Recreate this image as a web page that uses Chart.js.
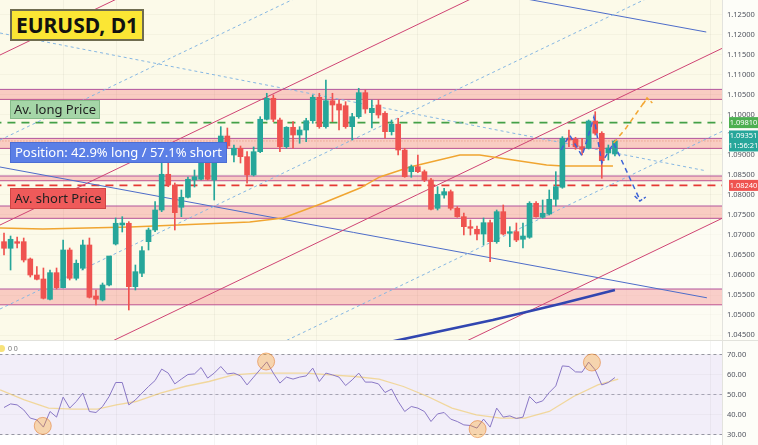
<!DOCTYPE html>
<html>
<head>
<meta charset="utf-8">
<script src="https://cdn.jsdelivr.net/npm/chart.js@4.4.1/dist/chart.umd.min.js"></script>
<style>
  body { margin: 0; background: #fdfdf8; font-family: "Noto Sans", sans-serif; }
  #wrap { position: relative; width: 758px; height: 445px; overflow: hidden; }
  canvas { position: absolute; left: 0; }
  .note { position: absolute; box-sizing: border-box; white-space: nowrap; display: flex;
          align-items: center; justify-content: center; font-size: 13px; line-height: 1; z-index: 2; }
  .title { left: 10px; top: 9px; width: 134px; height: 32px; background: #fbe634;
           border: 2px solid #6f6c50; font-weight: bold; font-size: 21px; color: #111; }
  .long { left: 10px; top: 100px; width: 90px; height: 19px; background: #a5d6a7; border: 1px solid #86bb89; color: #222; }
  .pos { left: 10px; top: 142px; width: 217px; height: 21px; background: #5b7fe6; border: 1px solid #4b6dd4; color: #fff; }
  .short { left: 10px; top: 188px; width: 96px; height: 21px; background: #ef5a5a; border: 1px solid #d04545; color: #222; }
  .sep { position: absolute; left: 0; top: 340px; width: 758px; height: 1px; background: #e2e2dc; z-index: 2; }
  .rsihead { position: absolute; left: -2px; top: 344px; font-size: 7px; color: #777; display: flex; align-items: center; gap: 3px; z-index: 2; }
  .rsihead i { display: inline-block; width: 7px; height: 7px; border-radius: 50%; background: #f7e27a; }
</style>
</head>
<body>
<div id="wrap">
  <canvas id="main" width="758" height="340" style="top:0"></canvas>
  <canvas id="rsi" width="758" height="105" style="top:340px"></canvas>
  <div class="sep"></div>
  <div class="note title">EURUSD, D1</div>
  <div class="note long">Av. long Price</div>
  <div class="note pos">Position: 42.9% long / 57.1% short</div>
  <div class="note short">Av. short Price</div>
  <div class="rsihead"><i></i><span>0 0</span></div>
</div>
<script>
// daily candles, index 0..93
const candleOpen = [1.06833,1.06668,1.06833,1.06833,1.06400,1.06000,1.05900,1.05393,1.06058,1.05683,
  1.06625,1.05918,1.06168,1.06750,1.05475,1.05375,1.05750,1.06775,1.07250,1.07293,
  1.05708,1.06043,1.06833,1.07125,1.07625,1.08518,1.08250,1.07693,1.07943,1.08375,
  1.08393,1.08958,1.08375,1.08943,1.09475,1.09000,1.09168,1.08958,1.08500,1.09083,
  1.09893,1.10418,1.09875,1.09208,1.09693,1.09500,1.09625,1.09858,1.10443,1.09708,
  1.10358,1.10275,1.10233,1.09708,1.09958,1.10558,1.10058,1.10250,1.10043,1.09583,
  1.09770,1.09125,1.08583,1.08708,1.08583,1.08375,1.07668,1.08000,1.08083,1.07668,
  1.07458,1.07208,1.07143,1.07025,1.07308,1.06833,1.07583,1.07043,1.07083,1.06893,
  1.06943,1.07793,1.07443,1.07525,1.07893,1.08193,1.09418,1.09393,1.09208,1.09168,
  1.09850,1.09543,1.09050,1.09025];
const candleHigh = [1.07050,1.06975,1.06950,1.06925,1.06425,1.06208,1.06175,1.06125,1.06175,1.06875,
  1.06675,1.06375,1.06875,1.06925,1.05625,1.05800,1.06425,1.07425,1.07458,1.07333,
  1.06250,1.06708,1.07175,1.07833,1.08833,1.08833,1.08300,1.08125,1.08450,1.08625,
  1.09208,1.09000,1.09000,1.09708,1.09675,1.09250,1.09225,1.09083,1.09200,1.09958,
  1.10543,1.10500,1.09925,1.09708,1.09833,1.09708,1.09918,1.10500,1.10543,1.10875,
  1.10543,1.10375,1.10333,1.10043,1.10668,1.10625,1.10375,1.10375,1.10083,1.09875,
  1.09918,1.09168,1.08750,1.09000,1.08625,1.08418,1.08208,1.08168,1.08125,1.07708,
  1.07550,1.07375,1.07225,1.07425,1.07375,1.07625,1.07750,1.07208,1.07300,1.07300,
  1.07833,1.07833,1.07875,1.08125,1.08583,1.09458,1.09625,1.09443,1.09418,1.09875,
  1.10083,1.09583,1.09250,1.09375];
const candleLow = [1.06500,1.06125,1.06675,1.06325,1.05950,1.05875,1.05400,1.05375,1.05650,1.05675,
  1.05875,1.05875,1.06125,1.05425,1.05250,1.05350,1.05725,1.06750,1.07075,1.05125,
  1.05625,1.05958,1.06625,1.07083,1.07583,1.08208,1.07125,1.07458,1.07925,1.08200,
  1.08375,1.08375,1.07875,1.08925,1.09175,1.08825,1.08800,1.08293,1.08475,1.09058,
  1.09875,1.09833,1.09083,1.09168,1.09168,1.09293,1.09333,1.09793,1.09668,1.09668,
  1.09833,1.09625,1.09668,1.09375,1.09918,1.10043,1.09675,1.09925,1.09418,1.09500,
  1.09000,1.08443,1.08443,1.08558,1.08333,1.07625,1.07625,1.07918,1.07625,1.07443,
  1.07000,1.07000,1.06875,1.06750,1.06333,1.06793,1.07000,1.06708,1.06833,1.06675,
  1.06918,1.07443,1.07425,1.07500,1.07725,1.08168,1.09208,1.09143,1.09000,1.09150,
  1.09500,1.08418,1.08875,1.08975];
const candleClose = [1.06668,1.06893,1.06793,1.06375,1.06000,1.05893,1.05418,1.06058,1.05683,1.06625,
  1.05918,1.06293,1.06750,1.05443,1.05393,1.05750,1.06475,1.07293,1.07300,1.05708,
  1.06083,1.06608,1.07125,1.07625,1.08518,1.08250,1.07558,1.07943,1.08393,1.08458,
  1.08958,1.08393,1.08958,1.09475,1.09225,1.09168,1.08958,1.08500,1.09083,1.09893,
  1.10418,1.09893,1.09208,1.09693,1.09500,1.09625,1.09858,1.10443,1.09708,1.10358,
  1.10250,1.10125,1.09708,1.09958,1.10558,1.10150,1.10168,1.10000,1.09583,1.09770,
  1.09125,1.08458,1.08708,1.08583,1.08375,1.07643,1.08018,1.08083,1.07668,1.07458,
  1.07208,1.07168,1.07025,1.07308,1.06833,1.07583,1.07025,1.07083,1.06875,1.06975,
  1.07793,1.07458,1.07543,1.07893,1.08208,1.09418,1.09375,1.09208,1.09143,1.09850,
  1.09543,1.08858,1.09175,1.09351];

// RSI(14) per candle and its moving average (read at a few spots)
const rsiValues = [43.5,45.3,44.8,42.3,38.2,37.3,33.7,41.5,38.7,48.7,
  43.2,46.5,50.7,41.5,41.0,44.0,49.0,56.0,56.0,44.8,
  47.3,50.7,54.0,57.0,62.7,60.7,55.3,57.7,60.0,60.3,
  63.5,58.2,60.7,64.0,60.3,60.7,59.3,54.8,58.7,62.5,
  66.3,60.7,55.7,58.7,57.7,58.7,59.3,63.2,56.5,60.7,
  59.8,58.7,54.5,57.3,60.7,56.2,56.2,55.3,51.0,52.7,
  46.5,41.5,44.0,43.2,41.5,36.5,40.3,41.0,37.7,36.5,
  34.8,34.5,33.2,37.7,33.7,43.2,38.7,39.3,38.0,38.7,
  49.0,45.7,46.8,51.0,54.3,64.3,64.0,61.3,61.2,66.2,
  62.3,54.8,56.0,58.5];
const rsiMaIdx = [-0.6,3.1,6.8,10.5,14.2,17.1,20.1,23.8,27.5,31.2,34.9,38.6,42.3,46,
  49.7,53.4,57.1,60.8,64.5,68.2,71.9,75.6,79.3,83,86.7,90.4,93.5];
const rsiMaVal = [52.3,47.3,43.2,42.7,42.7,44.8,46.5,50.7,54,56.5,59.8,60.7,60.7,60.7,
  59.8,59,57.7,54,49,43.2,39.8,38.2,38.2,41.5,49,54.8,57.7];
const rsiMarkIdx = [5.9, 39.9, 72.1, 89.5];
const rsiMarkVal = [34.3, 66.5, 32.7, 66.0];
const rsiTicks = [30, 40, 50, 60, 70];

// moving averages on price
const ma50Idx = [-0.61,5.9,19.2,37.4,42.5,48.6,54.2,57.2,61.8,69.4,72.4,77.5,82.6,85.1,92.7];
const ma50Val = [1.07175,1.07150,1.07200,1.07325,1.07425,1.07800,1.08175,1.08450,1.08700,
  1.09000,1.09000,1.08875,1.08750,1.08725,1.08725];
const ma200Idx = [58.7, 74.4, 84.6, 93.0];
const ma200Val = [1.04325, 1.04875, 1.05275, 1.05625];

// price zones [top, bottom] and levels
const zones = [[1.10640,1.10390],[1.09415,1.09165],[1.08475,1.08357],[1.07725,1.07417],[1.05650,1.05255]];
const avgLongPrice = 1.09810;
const avgShortPrice = 1.08240;
const lastPrice = 1.09351;
const barCountdown = '11:56:21';
const priceTicks = [1.045,1.050,1.055,1.060,1.065,1.070,1.075,1.080,1.085,1.090,
  1.095,1.100,1.105,1.110,1.115,1.120,1.125];

// trend lines as [idxA, priceA, idxB, priceB]
const redChannel = [[-0.61,1.11500,109.3,1.20165],[-0.61,1.07250,109.3,1.15915],
  [-0.61,1.03000,109.3,1.11665],[-0.61,0.98750,109.3,1.07415]];
const blueDashChannel = [[-0.61,1.09375,109.3,1.18040],[-0.61,1.05150,109.3,1.13815],
  [-0.61,1.00925,109.3,1.09590]];
const blueDashDown = [-0.61,1.12050,106.8,1.08607];
const blueTrends = [[-0.61,1.08700,107.0,1.05430],[75.0,1.13037,106.9,1.12075]];

// projected paths
const bearPathIdx = [84.8,86.1,88.0,89.8,91.0,92.8,96.8];
const bearPathVal = [1.09125,1.09500,1.08975,1.09950,1.08800,1.09300,1.07875];
const bearHeadIdx = [96.0,96.8,97.7];
const bearHeadVal = [1.07975,1.07850,1.07950];
const bullPathIdx = [92.8,94.7,97.9];
const bullPathVal = [1.09300,1.09675,1.10425];
const bullHeadIdx = [97.3,97.9,98.7];
const bullHeadVal = [1.10275,1.10425,1.10300];

const gridIdx = [9, 17.2, 32, 47.5, 63, 78.5, 94.8, 107.5];

const viewStart = -0.61, viewEnd = 109.3;
const priceMin = 1.04375, priceMax = 1.12875;
const UP = '#26a69a', DOWN = '#ef5350';

Chart.defaults.font.family = '"Noto Sans", sans-serif';

const pts = (xs, ys) => xs.map((x, k) => ({x, y: ys[k]}));
const seg = s => [{x: s[0], y: s[1]}, {x: s[2], y: s[3]}];
const flat = v => [{x: viewStart - 1, y: v}, {x: viewEnd + 1, y: v}];

const paneBackground = {
  id: 'paneBackground',
  beforeDraw(chart, args, opts) {
    const {ctx, chartArea: a} = chart;
    ctx.save();
    ctx.fillStyle = opts.color;
    ctx.fillRect(a.left, a.top, a.right - a.left, a.bottom - a.top);
    ctx.restore();
  }
};

const priceTags = {
  id: 'priceTags',
  afterDraw(chart, args, opts) {
    if (!opts.tags) return;
    const {ctx, chartArea, scales: {y}} = chart;
    ctx.save();
    ctx.font = '7.5px "Noto Sans"';
    ctx.textAlign = 'center';
    ctx.textBaseline = 'middle';
    opts.tags.forEach(t => {
      const lines = [t.value.toFixed(5)].concat(t.extra ? [t.extra] : []);
      const h = 11 + (lines.length - 1) * 10;
      const py = y.getPixelForValue(t.value);
      const x = chartArea.right + 7, w = 29, top = py - h / 2;
      ctx.fillStyle = t.color;
      ctx.fillRect(x, top, w, h);
      ctx.fillStyle = '#fff';
      lines.forEach((s, k) => ctx.fillText(s, x + w / 2, top + 5.5 + k * 10));
    });
    ctx.restore();
  }
};

const xAxis = {
  type: 'linear', min: viewStart, max: viewEnd, offset: false,
  grid: {color: 'rgba(60,60,40,0.05)', drawTicks: false, offset: false},
  border: {display: false},
  ticks: {display: false},
  afterBuildTicks: s => { s.ticks = gridIdx.map(v => ({value: v})); },
  afterFit: s => { s.height = 0; s.paddingLeft = s.paddingRight = s.paddingTop = s.paddingBottom = 0; }
};

function rightAxis(min, max, ticks, digits) {
  return {
    position: 'right', type: 'linear', min, max, beginAtZero: false,
    grid: {color: 'rgba(60,60,40,0.035)', drawTicks: false},
    border: {color: 'rgba(0,0,0,0.10)'},
    ticks: {padding: 5, color: '#50535e', font: {size: 7.5}, callback: v => Number(v).toFixed(digits)},
    afterBuildTicks: s => { s.ticks = ticks.map(v => ({value: v})); },
    afterFit: s => { s.width = 36; s.paddingTop = s.paddingBottom = s.paddingLeft = s.paddingRight = 0; }
  };
}

// ---- main price pane ----
const lineBase = {type: 'line', pointRadius: 0, borderWidth: 1, fill: false, tension: 0};
const mainSets = [];

// lighter area under the lowest channel line
const lowRed = redChannel[redChannel.length - 1];
mainSets.push({...lineBase, data: seg(lowRed), borderColor: 'rgba(0,0,0,0)', fill: 'start',
  backgroundColor: 'rgba(255,255,255,0.45)', order: 99});

zones.forEach(z => {
  mainSets.push({...lineBase, data: flat(z[0]), borderColor: '#b2549c', fill: '+1',
    backgroundColor: 'rgba(242,80,90,0.27)', order: 90});
  mainSets.push({...lineBase, data: flat(z[1]), borderColor: '#b2549c', order: 90});
});

mainSets.push({...lineBase, data: flat(lastPrice), borderColor: 'rgba(226,140,110,0.9)', borderDash: [1, 2], order: 80});
mainSets.push({...lineBase, data: flat(avgLongPrice), borderColor: '#43a047', borderWidth: 1.6, borderDash: [8, 6], order: 80});
mainSets.push({...lineBase, data: flat(avgShortPrice), borderColor: '#e53935', borderWidth: 1.6, borderDash: [8, 6], order: 80});

redChannel.forEach(s => {
  mainSets.push({...lineBase, data: seg(s), borderColor: '#cf4474', order: 70});
});
blueDashChannel.forEach(s => {
  mainSets.push({...lineBase, data: seg(s), borderColor: '#86b7e3', borderDash: [3, 3], order: 70});
});
mainSets.push({...lineBase, data: seg(blueDashDown), borderColor: '#86b7e3', borderDash: [3, 3], order: 70});
blueTrends.forEach(s => {
  mainSets.push({...lineBase, data: seg(s), borderColor: '#4d6cc9', order: 70});
});

mainSets.push({...lineBase, data: pts(ma50Idx, ma50Val), borderColor: '#f0a531', borderWidth: 1.4, order: 60});
mainSets.push({...lineBase, data: pts(ma200Idx, ma200Val), borderColor: '#3146b0', borderWidth: 2.6, order: 60});

mainSets.push({type: 'bar', grouped: false, barThickness: 1, minBarLength: 1, order: 20,
  data: candleLow.map((l, i) => ({x: i, y: [l, candleHigh[i]]})),
  backgroundColor: candleClose.map((c, i) => c >= candleOpen[i] ? UP : DOWN)});
mainSets.push({type: 'bar', grouped: false, barThickness: 5, minBarLength: 1, order: 10,
  data: candleOpen.map((o, i) => ({x: i, y: [o, candleClose[i]]})),
  backgroundColor: candleClose.map((c, i) => c >= candleOpen[i] ? UP : DOWN)});

mainSets.push({...lineBase, data: pts(bearPathIdx, bearPathVal), borderColor: '#3d63d6', borderWidth: 1.5, borderDash: [5, 4], order: 5});
mainSets.push({...lineBase, data: pts(bearHeadIdx, bearHeadVal), borderColor: '#3d63d6', borderWidth: 1.5, borderDash: [4, 2], order: 5});
mainSets.push({...lineBase, data: pts(bullPathIdx, bullPathVal), borderColor: '#f3a632', borderWidth: 1.5, borderDash: [5, 4], order: 5});
mainSets.push({...lineBase, data: pts(bullHeadIdx, bullHeadVal), borderColor: '#f3a632', borderWidth: 1.5, borderDash: [4, 2], order: 5});

new Chart(document.getElementById('main'), {
  type: 'bar',
  data: {datasets: mainSets},
  options: {
    responsive: false, animation: false, devicePixelRatio: 1,
    layout: {padding: 0, autoPadding: false},
    plugins: {
      legend: {display: false}, tooltip: {enabled: false},
      paneBackground: {color: '#fcfae9'},
      priceTags: {tags: [
        {value: avgLongPrice, color: '#4caf50'},
        {value: lastPrice, color: '#26a69a', extra: barCountdown},
        {value: avgShortPrice, color: '#ef5350'}
      ]}
    },
    scales: {x: xAxis, y: rightAxis(priceMin, priceMax, priceTicks, 5)}
  },
  plugins: [paneBackground, priceTags]
});

// ---- RSI pane ----
const rsiSets = [
  {...lineBase, data: flat(70), borderColor: 'rgba(120,123,134,0.75)', borderDash: [3, 3],
    fill: {value: 30}, backgroundColor: 'rgba(126,87,194,0.1)', order: 9},
  {...lineBase, data: flat(50), borderColor: 'rgba(120,123,134,0.6)', borderDash: [3, 3], order: 9},
  {...lineBase, data: flat(30), borderColor: 'rgba(120,123,134,0.75)', borderDash: [3, 3], order: 9},
  {...lineBase, data: pts(rsiMaIdx, rsiMaVal), borderColor: 'rgba(240,196,80,0.55)', borderWidth: 1.3, order: 4},
  {...lineBase, data: rsiValues.map((v, i) => ({x: i, y: v})), borderColor: '#8a78c6', order: 3},
  {...lineBase, data: pts(rsiMarkIdx, rsiMarkVal), showLine: false, pointRadius: 8.5,
    pointBackgroundColor: 'rgba(255,152,0,0.3)', pointBorderColor: 'rgba(225,120,40,0.55)', pointBorderWidth: 1, order: 1}
];

new Chart(document.getElementById('rsi'), {
  type: 'line',
  data: {datasets: rsiSets},
  options: {
    responsive: false, animation: false, devicePixelRatio: 1,
    layout: {padding: 0, autoPadding: false},
    plugins: {legend: {display: false}, tooltip: {enabled: false}, paneBackground: {color: '#ffffff'}},
    scales: {x: xAxis, y: rightAxis(24.75, 77.25, rsiTicks, 2)}
  },
  plugins: [paneBackground]
});
</script>
</body>
</html>
